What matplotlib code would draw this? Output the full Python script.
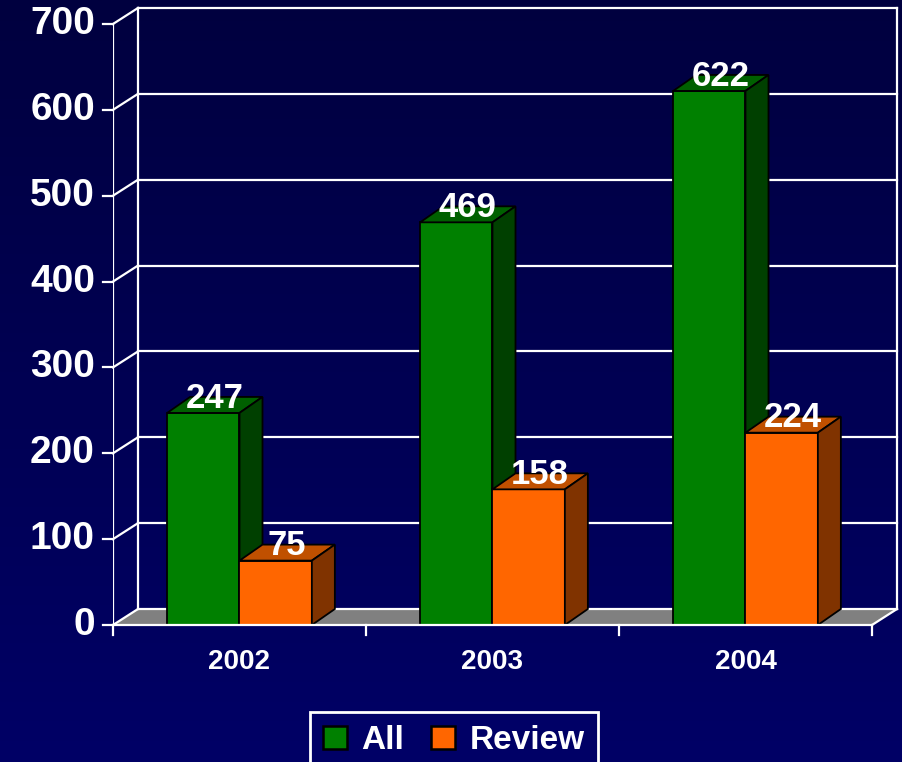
import numpy as np
import matplotlib.pyplot as plt
from matplotlib.patches import Polygon, Patch
from matplotlib.colors import LinearSegmentedColormap

# данные
years = ['2002', '2003', '2004']
all_counts = [247, 469, 622]
review_counts = [75, 158, 224]
y_ticks = [0, 100, 200, 300, 400, 500, 600, 700]

plt.rcParams['font.family'] = ['Liberation Sans', 'DejaVu Sans']

fig = plt.figure(figsize=(9.03, 7.62), dpi=100)

# фон с градиентом
bg = fig.add_axes([0, 0, 1, 1])
bg_cmap = LinearSegmentedColormap.from_list('bg', ['#00003f', '#000066'])
bg.imshow(np.linspace(0, 1, 256).reshape(-1, 1), cmap=bg_cmap, aspect='auto',
          extent=[0, 1, 0, 1])
bg.axis('off')

px_x = 253.0      # пикселей на категорию
px_y = 0.8586     # пикселей на единицу
ax = fig.add_axes([113 / 903, (762 - 625) / 762, 787 / 903, 620 / 762])
ax.set_xlim(0, 787 / px_x)
ax.set_ylim(0, 620 / px_y)
ax.axis('off')
ax.patch.set_alpha(0)

dx = 25 / px_x
dy = 16 / px_y
n = len(years)
top = y_ticks[-1]
lw = 1.6

# пол
ax.add_patch(Polygon([(0, 0), (n, 0), (n + dx, dy), (dx, dy)], closed=True,
                     facecolor='#808080', edgecolor='none', zorder=1))

# сетка и стенки
for v in y_ticks:
    ax.plot([dx, n + dx], [v + dy, v + dy], color='white', lw=lw, zorder=2, clip_on=False)
    ax.plot([0, dx], [v, v + dy], color='white', lw=lw, zorder=2, clip_on=False)
    ax.plot([-10 / px_x, 0], [v, v], color='white', lw=lw, zorder=2, clip_on=False)
    ax.text(-18 / px_x, v, str(v), ha='right', va='center', fontsize=28,
            fontweight='bold', color='white')
ax.plot([0, 0], [0, top], color='white', lw=lw, zorder=2)
ax.plot([dx, dx], [dy, top + dy], color='white', lw=lw, zorder=2, clip_on=False)
ax.plot([n + dx, n + dx], [dy, top + dy], color='white', lw=lw, zorder=2, clip_on=False)
ax.plot([0, n], [0, 0], color='white', lw=lw, zorder=6, clip_on=False)
ax.plot([n, n + dx], [0, dy], color='white', lw=lw, zorder=2, clip_on=False)
for i in range(n + 1):
    ax.plot([i, i], [0, -10 / px_y], color='white', lw=lw, zorder=6, clip_on=False)


def bar3d(x0, w, h, front, topc, side, z):
    bdx = 23 / px_x
    ax.add_patch(Polygon([(x0, 0), (x0 + w, 0), (x0 + w, h), (x0, h)],
                         facecolor=front, edgecolor='black', lw=1.3, zorder=z))
    ax.add_patch(Polygon([(x0, h), (x0 + w, h), (x0 + w + bdx, h + dy), (x0 + bdx, h + dy)],
                         facecolor=topc, edgecolor='black', lw=1.3, zorder=z))
    ax.add_patch(Polygon([(x0 + w, 0), (x0 + w + bdx, dy), (x0 + w + bdx, h + dy), (x0 + w, h)],
                         facecolor=side, edgecolor='black', lw=1.3, zorder=z))
    ax.text(x0 + (w + bdx) / 2, h + dy / 2 + 8, str(h), ha='center', va='center',
            fontsize=25, fontweight='bold', color='white', zorder=10)


w = 0.286
for i in range(n):
    bar3d(i + 0.5 - w, w, all_counts[i], '#008000', '#006000', '#004000', 4)
    bar3d(i + 0.5, w, review_counts[i], '#ff6600', '#c05000', '#803300', 5)
    ax.text(i + 0.5, -37 / px_y, years[i], ha='center', va='center', fontsize=20,
            fontweight='bold', color='white')

handles = [Patch(facecolor='#008000', edgecolor='black', lw=1.8),
           Patch(facecolor='#ff6600', edgecolor='black', lw=1.8)]
leg = fig.legend(handles, ['All', 'Review'], loc='upper center',
                 bbox_to_anchor=(454 / 903, 1 - 712 / 762), ncol=2, borderaxespad=0,
                 prop={'size': 24, 'weight': 'bold'}, labelcolor='white',
                 facecolor='#000066', edgecolor='white', fancybox=False, framealpha=1,
                 handlelength=0.7, handleheight=0.7, handletextpad=0.45,
                 columnspacing=0.8, borderpad=0.4)
leg.get_frame().set_linewidth(2)

fig.savefig('out.png', dpi=100)
